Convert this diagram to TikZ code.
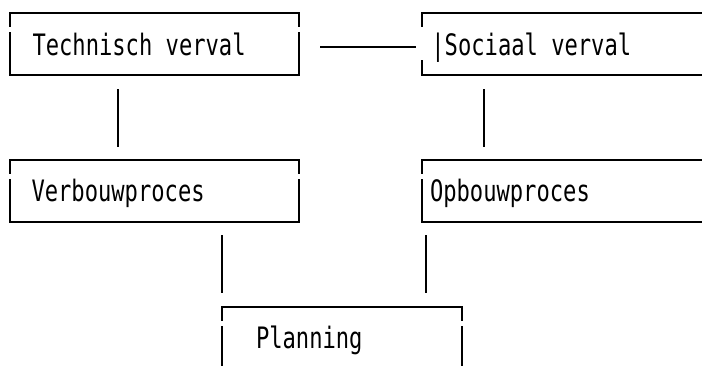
\documentclass[tikz,border=0pt]{standalone}
\usepackage{fontspec}
\newfontfamily\gothic[FakeStretch=0.75]{DejaVu Sans Mono}
\tikzset{
  frame/.style={draw=none, inner sep=0pt, outer sep=0pt},
  rule/.style={line width=1.6pt, line join=miter},
  link/.style={line width=1.6pt},
  boxtext/.style={anchor=base west, inner sep=0pt, outer sep=0pt,
    font=\gothic\fontsize{29.5}{30}\selectfont},
}
% box outline drawn as text-art: a short stub under each top corner,
% then a gap, then the sides resume #2 below the top edge
\newcommand\artbox[2]{%
  \draw[rule] ([yshift=-13.5pt]#1.north west) -- (#1.north west)
    -- (#1.north east) -- ([yshift=-13.5pt]#1.north east);
  \draw[rule] ([yshift=-#2]#1.north west) -- (#1.south west)
    -- (#1.south east) -- ([yshift=-#2]#1.north east);
}
\begin{document}
\begin{tikzpicture}[x=1pt, y=-1pt]
  \useasboundingbox (0,0) rectangle (702,365);
  \clip (0,0) rectangle (702,365);

  % box frames
  \node[frame, minimum width=289pt, minimum height=62pt] (b1) at (154.5,44) {};
  \node[frame, minimum width=320pt, minimum height=62pt] (b2) at (582,44) {};
  \node[frame, minimum width=289pt, minimum height=62pt] (b3) at (154.5,191) {};
  \node[frame, minimum width=320pt, minimum height=62pt] (b4) at (582,191) {};
  \node[frame, minimum width=240pt, minimum height=62pt] (b5) at (342,338) {};

  \artbox{b1}{19pt}
  \artbox{b2}{47pt}
  \artbox{b3}{19pt}
  \artbox{b4}{19pt}
  \artbox{b5}{19pt}

  % texts
  \node[boxtext] (t1) at (32.5,55) {Technisch verval};
  \node[boxtext] (t2) at (431.4,55) {|Sociaal verval};
  \node[boxtext] (t3) at (31.5,201) {Verbouwproces};
  \node[boxtext] (t4) at (430,201) {Opbouwproces};
  \node[boxtext] (t5) at (256,348.5) {Planning};

  % connectors
  \draw[link] ([xshift=21pt, yshift=-3pt]b1.east) -- ([xshift=-6pt, yshift=-3pt]b2.west);
  \draw[link] ([xshift=-36.5pt, yshift=-14pt]b1.south) -- ([xshift=-36.5pt, yshift=13pt]b3.north);
  \draw[link] ([xshift=62pt, yshift=-14pt]b2.south west) -- ([xshift=62pt, yshift=13pt]b4.north west);
  \draw[link] ([xshift=67.5pt, yshift=-13pt]b3.south) -- ([yshift=14pt]b5.north west);
  \draw[link] ([xshift=4pt, yshift=-13pt]b4.south west) -- ([xshift=-36pt, yshift=14pt]b5.north east);
\end{tikzpicture}
\end{document}
